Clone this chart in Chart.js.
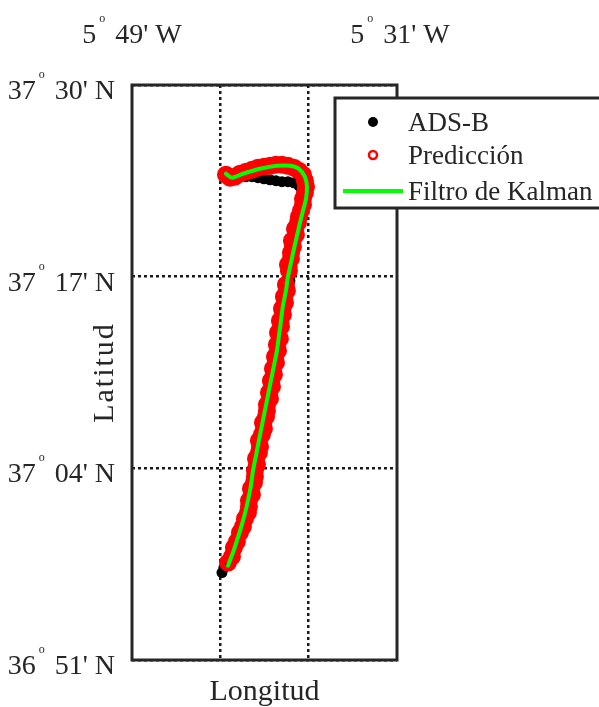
<!DOCTYPE html>
<html>
<head>
<meta charset="utf-8">
<script src="https://cdn.jsdelivr.net/npm/chart.js@4.4.0/dist/chart.umd.min.js"></script>
<style>
  html, body { margin: 0; padding: 0; background: #fff; }
  canvas { display: block; }
</style>
</head>
<body>
<canvas id="track" width="599" height="707"></canvas>
<script>
// ADS-B reported positions (decimal degrees, west longitudes negative)
const adsbLon = [-5.7148, -5.7126, -5.7092, -5.7058, -5.7024, -5.6990, -5.6956, -5.6922, -5.6888, -5.6865,
  -5.6843, -5.6820, -5.6797, -5.6786, -5.6763, -5.6741, -5.6718, -5.6696, -5.6673, -5.6650,
  -5.6628, -5.6605, -5.6582, -5.6560, -5.6537, -5.6514, -5.6492, -5.6469, -5.6447, -5.6424,
  -5.6401, -5.6379, -5.6356, -5.6333, -5.6311, -5.6288, -5.6265, -5.6243, -5.6231, -5.6243,
  -5.6277, -5.6333, -5.6401, -5.6469, -5.6537, -5.6605, -5.6673, -5.6741, -5.6809, -5.6877,
  -5.6945, -5.7013, -5.7069, -5.7126];
const adsbLat = [36.9488, 36.9545, 36.9601, 36.9669, 36.9748, 36.9827, 36.9906, 36.9985, 37.0076, 37.0166,
  37.0257, 37.0347, 37.0437, 37.0528, 37.0618, 37.0731, 37.0844, 37.0957, 37.1070, 37.1183,
  37.1296, 37.1409, 37.1522, 37.1635, 37.1748, 37.1884, 37.2019, 37.2155, 37.2313, 37.2471,
  37.2630, 37.2788, 37.2946, 37.3104, 37.3240, 37.3375, 37.3511, 37.3624, 37.3726, 37.3805,
  37.3861, 37.3895, 37.3907, 37.3907, 37.3918, 37.3929, 37.3940, 37.3952, 37.3963, 37.3963,
  37.3963, 37.3974, 37.3986, 37.3997];

// Predicted positions
const predLon = [-5.7080, -5.7035, -5.7013, -5.6979, -5.6945, -5.6911, -5.6888, -5.6854, -5.6843, -5.6843,
  -5.6809, -5.6820, -5.6786, -5.6775, -5.6775, -5.6752, -5.6763, -5.6730, -5.6718, -5.6730,
  -5.6696, -5.6673, -5.6684, -5.6650, -5.6639, -5.6639, -5.6605, -5.6616, -5.6582, -5.6594,
  -5.6560, -5.6571, -5.6537, -5.6548, -5.6514, -5.6526, -5.6492, -5.6514, -5.6480, -5.6492,
  -5.6458, -5.6469, -5.6435, -5.6447, -5.6413, -5.6424, -5.6390, -5.6401, -5.6367, -5.6367,
  -5.6345, -5.6356, -5.6311, -5.6322, -5.6288, -5.6277, -5.6254, -5.6231, -5.6231, -5.6209,
  -5.6197, -5.6209, -5.6231, -5.6277, -5.6333, -5.6401, -5.6469, -5.6537, -5.6605, -5.6673,
  -5.6741, -5.6809, -5.6877, -5.6945, -5.7001, -5.7058, -5.7103];
const predLat = [36.9601, 36.9669, 36.9771, 36.9839, 36.9940, 37.0008, 37.0098, 37.0166, 37.0234, 37.0302,
  37.0370, 37.0437, 37.0505, 37.0573, 37.0641, 37.0709, 37.0776, 37.0844, 37.0912, 37.0980,
  37.1048, 37.1115, 37.1183, 37.1251, 37.1319, 37.1387, 37.1454, 37.1522, 37.1590, 37.1658,
  37.1726, 37.1793, 37.1861, 37.1929, 37.1997, 37.2065, 37.2132, 37.2200, 37.2268, 37.2336,
  37.2404, 37.2471, 37.2539, 37.2607, 37.2675, 37.2743, 37.2901, 37.2969, 37.3036, 37.3104,
  37.3172, 37.3240, 37.3308, 37.3375, 37.3443, 37.3511, 37.3579, 37.3647, 37.3714, 37.3782,
  37.3850, 37.3918, 37.3986, 37.4031, 37.4065, 37.4087, 37.4099, 37.4099, 37.4087, 37.4076,
  37.4065, 37.4042, 37.4020, 37.3997, 37.3963, 37.3952, 37.3986];

// Kalman filter estimate
const kalmanLon = [-5.7080, -5.7024, -5.6979, -5.6933, -5.6888, -5.6854, -5.6820, -5.6797, -5.6763, -5.6730,
  -5.6696, -5.6662, -5.6628, -5.6594, -5.6560, -5.6526, -5.6503, -5.6480, -5.6458, -5.6424,
  -5.6401, -5.6367, -5.6333, -5.6299, -5.6265, -5.6231, -5.6197, -5.6186, -5.6209, -5.6277,
  -5.6379, -5.6526, -5.6718, -5.6911, -5.7035, -5.7103];
const kalmanLat = [36.9567, 36.9714, 36.9850, 36.9997, 37.0155, 37.0302, 37.0471, 37.0641, 37.0810, 37.0980,
  37.1149, 37.1319, 37.1488, 37.1658, 37.1827, 37.1997, 37.2166, 37.2336, 37.2505, 37.2675,
  37.2833, 37.2991, 37.3149, 37.3296, 37.3443, 37.3579, 37.3714, 37.3850, 37.3963, 37.4053,
  37.4087, 37.4087, 37.4053, 37.3997, 37.3952, 37.3997];

// Map frame limits, graticule and labels
const lonLimits = [-5.81667, -5.51667];          // 5°49'W .. 5°31'W
const latLimits = [36.85, 37.5];                 // 36°51'N .. 37°30'N
const lonGrid = [-5.71667, -5.61667];            // meridians every 6'
const lonTickLabels = ["5° 49' W", "5° 31' W"]; // drawn at the frame limits
const latTicks = [36.85, 37.06667, 37.28333, 37.5];
const latTickLabels = ["36° 51' N", "37° 04' N", "37° 17' N", "37° 30' N"];
const seriesNames = ["ADS-B", "Predicción", "Filtro de Kalman"];
const axisTitles = { x: "Longitud", y: "Latitud" };

const toPoints = (lons, lats) => lons.map((x, i) => ({ x, y: lats[i] }));

const TEXT = '#262626';
const SERIF = '"Liberation Serif", "Times New Roman", serif';
const MAIN_FONT = '28px ' + SERIF;
const TITLE_FONT = '30px ' + SERIF;
const LEGEND_FONT = '27px ' + SERIF;
const SUP_FONT = '12px ' + SERIF;

// Degree-minute label with a small raised circle as the degree mark
function drawDMS(ctx, label, x, y, align) {
  const parts = label.split('°');
  ctx.font = MAIN_FONT;
  const w1 = ctx.measureText(parts[0]).width;
  const w2 = ctx.measureText(parts[1]).width;
  ctx.font = SUP_FONT;
  const wo = ctx.measureText('o').width;
  const gap = 3;
  const total = w1 + gap + wo + 3 + w2;
  let x0 = x;
  if (align === 'right') x0 = x - total;
  else if (align === 'center') x0 = x - total / 2;
  ctx.textAlign = 'left';
  ctx.textBaseline = 'alphabetic';
  ctx.font = MAIN_FONT;
  ctx.fillText(parts[0], x0, y);
  ctx.font = SUP_FONT;
  ctx.fillText('o', x0 + w1 + gap, y - 21);
  ctx.font = MAIN_FONT;
  ctx.fillText(parts[1], x0 + w1 + gap + wo + 3, y);
}

const mapDecor = {
  id: 'mapDecor',
  beforeDraw(chart) {
    const ctx = chart.ctx;
    ctx.save();
    ctx.fillStyle = '#fff';
    ctx.fillRect(0, 0, chart.width, chart.height);
    ctx.restore();
  },
  afterDraw(chart) {
    const ctx = chart.ctx;
    const { left, right, top, bottom } = chart.chartArea;
    const xs = chart.scales.x, ys = chart.scales.y;
    ctx.save();

    // frame
    ctx.strokeStyle = TEXT;
    ctx.lineWidth = 3;
    ctx.setLineDash([]);
    ctx.strokeRect(left, top, right - left, bottom - top);

    ctx.fillStyle = TEXT;
    // parallel labels
    latTicks.forEach((v, i) => {
      drawDMS(ctx, latTickLabels[i], 115, ys.getPixelForValue(v) + 14, 'right');
    });
    // meridian labels
    lonLimits.forEach((v, i) => {
      drawDMS(ctx, lonTickLabels[i], xs.getPixelForValue(v) + (i ? 3 : 0), 43, 'center');
    });

    // axis titles
    ctx.font = TITLE_FONT;
    ctx.textAlign = 'center';
    ctx.textBaseline = 'alphabetic';
    ctx.fillText(axisTitles.x, (left + right) / 2, 700);
    ctx.save();
    ctx.translate(113, (top + bottom) / 2);
    ctx.rotate(-Math.PI / 2);
    ctx.letterSpacing = '2px';
    ctx.fillText(axisTitles.y, 0, 0);
    ctx.restore();

    // legend
    ctx.fillStyle = '#fff';
    ctx.fillRect(335, 98, 320, 110);
    ctx.strokeStyle = TEXT;
    ctx.lineWidth = 3;
    ctx.strokeRect(335, 98, 320, 110);
    const rows = [122, 155, 191];
    // ADS-B marker
    ctx.fillStyle = '#000000';
    ctx.beginPath(); ctx.arc(373, rows[0], 5, 0, Math.PI * 2); ctx.fill();
    // prediction marker
    ctx.strokeStyle = '#ff0000';
    ctx.lineWidth = 2.5;
    ctx.beginPath(); ctx.arc(373, rows[1], 4, 0, Math.PI * 2); ctx.stroke();
    // Kalman line sample
    ctx.strokeStyle = '#00ff00';
    ctx.lineWidth = 4;
    ctx.beginPath(); ctx.moveTo(343, rows[2]); ctx.lineTo(403, rows[2]); ctx.stroke();

    ctx.fillStyle = TEXT;
    ctx.font = LEGEND_FONT;
    ctx.textAlign = 'left';
    seriesNames.forEach((name, i) => ctx.fillText(name, 408, rows[i] + 9));
    ctx.restore();
  }
};

new Chart(document.getElementById('track'), {
  type: 'scatter',
  data: {
    datasets: [
      {
        label: seriesNames[0],
        data: toPoints(adsbLon, adsbLat),
        pointStyle: 'circle',
        pointRadius: 5.5,
        pointHoverRadius: 5.5,
        pointBorderWidth: 0,
        pointBackgroundColor: '#000000',
        pointBorderColor: '#000000',
        backgroundColor: '#000000',
        borderColor: '#000000',
        order: 3
      },
      {
        label: seriesNames[1],
        data: toPoints(predLon, predLat),
        pointStyle: 'circle',
        pointRadius: 6,
        pointHoverRadius: 6,
        pointBorderWidth: 6,
        pointBackgroundColor: 'rgba(0,0,0,0)',
        pointBorderColor: '#ff0000',
        backgroundColor: 'rgba(0,0,0,0)',
        borderColor: '#ff0000',
        order: 2
      },
      {
        label: seriesNames[2],
        data: toPoints(kalmanLon, kalmanLat),
        showLine: true,
        pointRadius: 0,
        borderWidth: 4,
        borderColor: '#00ff00',
        backgroundColor: '#00ff00',
        tension: 0.3,
        borderCapStyle: 'round',
        borderJoinStyle: 'round',
        order: 1
      }
    ]
  },
  options: {
    responsive: false,
    animation: false,
    devicePixelRatio: 1,
    layout: { padding: { left: 132, right: 202, top: 85, bottom: 47 } },
    plugins: { legend: { display: false }, tooltip: { enabled: false } },
    scales: {
      x: {
        type: 'linear',
        min: lonLimits[0],
        max: lonLimits[1],
        afterBuildTicks: (s) => { s.ticks = lonGrid.map(v => ({ value: v })); },
        ticks: { display: false },
        grid: { color: '#1a1a1a', lineWidth: 2.5, drawTicks: false },
        border: { display: false, dash: [3, 3] }
      },
      y: {
        type: 'linear',
        min: latLimits[0],
        max: latLimits[1],
        afterBuildTicks: (s) => { s.ticks = latTicks.map(v => ({ value: v })); },
        ticks: { display: false },
        grid: { color: '#1a1a1a', lineWidth: 2.5, drawTicks: false },
        border: { display: false, dash: [3, 3] }
      }
    }
  },
  plugins: [mapDecor]
});
</script>
</body>
</html>
